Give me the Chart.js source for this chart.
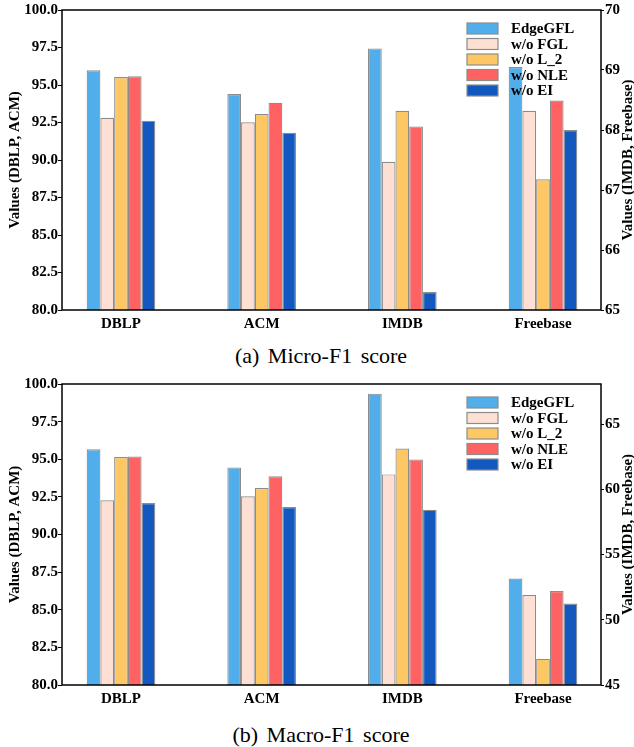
<!DOCTYPE html>
<html>
<head>
<meta charset="utf-8">
<script src="https://cdn.jsdelivr.net/npm/chart.js@4.4.1/dist/chart.umd.min.js"></script>
<style>
body { margin: 0; background: #fff; width: 634px; height: 747px; position: relative; overflow: hidden; }
.panel { position: absolute; left: 0; width: 634px; height: 340px; }
.caption { position: absolute; left: 4px; width: 634px; text-align: center; font-family: 'Liberation Serif', 'Times New Roman', serif; font-size: 22px; color: #000; word-spacing: 3px; }
</style>
</head>
<body>
<div class="panel" style="top:0px"><canvas id="micro" width="634" height="340"></canvas></div>
<div class="caption" style="top:343px">(a) Micro-F1 score</div>
<div class="panel" style="top:374px"><canvas id="macro" width="634" height="340"></canvas></div>
<div class="caption" style="top:722px">(b) Macro-F1 score</div>
<script>
const categories = ['DBLP', 'ACM', 'IMDB', 'Freebase'];
const leftCats = ['DBLP', 'ACM'];       // plotted on the left axis
const rightCats = ['IMDB', 'Freebase']; // plotted on the right axis
const methods = ['EdgeGFL', 'w/o FGL', 'w/o L_2', 'w/o NLE', 'w/o EI'];
const colors = ['#52AEEB', '#FDDFD3', '#FDC763', '#FE6262', '#1358BF'];

// values per method, in category order
const microF1 = [
    [95.98, 94.40, 69.36, 69.05],
    [92.82, 92.51, 67.47, 68.32],
    [95.53, 93.07, 68.32, 67.18],
    [95.58, 93.82, 68.06, 68.49],
    [92.62, 91.82, 65.30, 68.00]
];
const macroF1 = [
    [95.66, 94.46, 67.33, 53.16],
    [92.27, 92.54, 61.14, 51.90],
    [95.15, 93.09, 63.13, 47.00],
    [95.19, 93.87, 62.29, 52.20],
    [92.09, 91.83, 58.43, 51.25]
];

const leftTitle = 'Values (DBLP, ACM)';
const rightTitle = 'Values (IMDB, Freebase)';
const fontFamily = "'Liberation Serif', 'Times New Roman', serif";

function buildDatasets(values) {
    const sets = [];
    [['yL', leftCats], ['yR', rightCats]].forEach(([axis, cats]) => {
        methods.forEach((m, k) => {
            sets.push({
                label: m,
                yAxisID: axis,
                data: categories.map((c, i) => ({ x: i, y: cats.includes(c) ? values[k][i] : null })),
                backgroundColor: colors[k],
                borderColor: '#8c8c8c',
                borderWidth: 1.2,
                borderSkipped: false
            });
        });
    });
    return sets;
}

const decorPlugin = {
    id: 'decor',
    afterDraw(chart) {
        const { ctx, chartArea: a } = chart;
        ctx.save();
        // frame
        ctx.strokeStyle = '#000';
        ctx.lineWidth = 1.5;
        ctx.strokeRect(a.left, a.top, a.right - a.left, a.bottom - a.top);

        // legend inside the plot, top right
        ctx.font = 'bold 15px ' + fontFamily;
        ctx.textBaseline = 'middle';
        ctx.textAlign = 'left';
        methods.forEach((m, k) => {
            const y = a.top + 18.5 + k * 15.5;
            const x = a.right - 134;
            ctx.fillStyle = colors[k];
            ctx.fillRect(x, y - 5.5, 31, 11);
            ctx.strokeStyle = '#8c8c8c';
            ctx.lineWidth = 1.2;
            ctx.strokeRect(x, y - 5.5, 31, 11);
            ctx.fillStyle = '#000';
            ctx.fillText(m, x + 44, y + 1);
        });

        // right axis title, reading bottom to top
        ctx.translate(628, (a.top + a.bottom) / 2);
        ctx.rotate(-Math.PI / 2);
        ctx.textAlign = 'center';
        ctx.fillStyle = '#000';
        ctx.fillText(rightTitle, 0, 0);
        ctx.restore();
    }
};

function makeChart(id, values, rightMin, rightMax, rightStep, xHeight) {
    const tickFont = { family: fontFamily, size: 15, weight: 'bold' };
    new Chart(document.getElementById(id), {
        type: 'bar',
        data: { datasets: buildDatasets(values) },
        plugins: [decorPlugin],
        options: {
            responsive: false,
            animation: false,
            skipNull: true,
            categoryPercentage: 0.488,
            barPercentage: 1.0,
            layout: { padding: { top: 10, left: 0, right: 0, bottom: 0 } },
            plugins: { legend: { display: false }, tooltip: { enabled: false } },
            scales: {
                x: {
                    type: 'linear',
                    offset: false,
                    min: -0.4194,
                    max: 3.4123,
                    grid: { display: false, offset: false },
                    border: { display: false },
                    ticks: {
                        stepSize: 1,
                        includeBounds: false,
                        autoSkip: false,
                        maxRotation: 0,
                        padding: -3,
                        color: '#000',
                        font: tickFont,
                        callback: (v) => categories[v] ?? ''
                    },
                    afterFit: (s) => { s.height = xHeight; }
                },
                yL: {
                    position: 'left',
                    min: 80,
                    max: 100,
                    grid: { drawOnChartArea: false, drawTicks: true, tickLength: 4, color: '#000' },
                    border: { display: false },
                    ticks: {
                        stepSize: 2.5,
                        padding: 0,
                        color: '#000',
                        font: tickFont,
                        callback: (v) => v.toFixed(1)
                    },
                    title: {
                        display: true,
                        text: leftTitle,
                        color: '#000',
                        font: tickFont,
                        padding: { top: 6, bottom: 0 }
                    },
                    afterFit: (s) => { s.width = 62; }
                },
                yR: {
                    position: 'right',
                    min: rightMin,
                    max: rightMax,
                    grid: { drawOnChartArea: false, drawTicks: true, tickLength: 3, color: '#000' },
                    border: { display: false },
                    ticks: {
                        stepSize: rightStep,
                        includeBounds: false,
                        padding: 1,
                        color: '#000',
                        font: tickFont
                    },
                    afterFit: (s) => { s.width = 33; }
                }
            }
        }
    });
}

makeChart('micro', microF1, 65, 70, 1, 30);
makeChart('macro', macroF1, 45, 68.07, 5, 29);
</script>
</body>
</html>
